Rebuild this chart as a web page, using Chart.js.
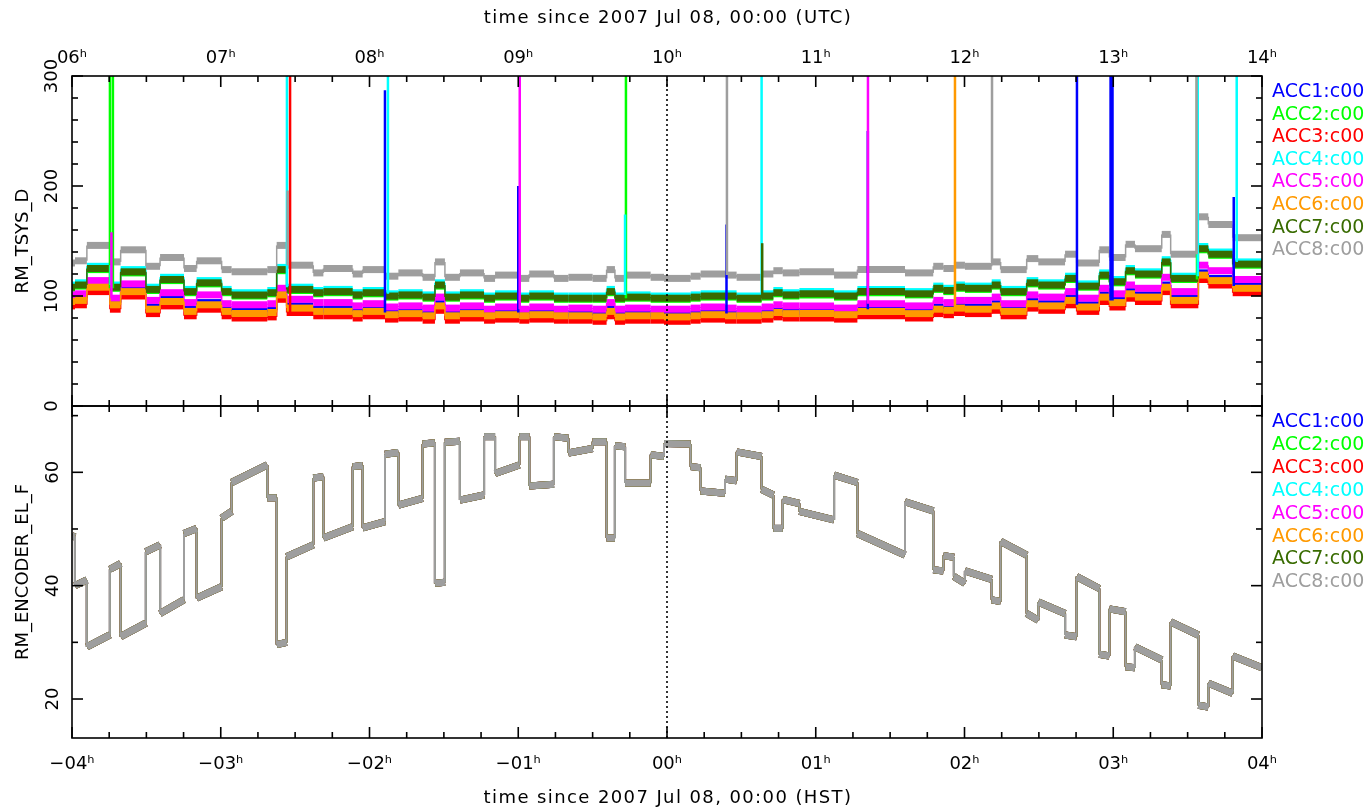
<!DOCTYPE html>
<html>
<head>
<meta charset="utf-8">
<script src="https://cdn.jsdelivr.net/npm/chart.js@4.4.1/dist/chart.umd.min.js"></script>
<style>
html,body{margin:0;padding:0;background:#fff;}
#wrap{position:relative;width:1370px;height:808px;overflow:hidden;background:#fff;}
#c{position:absolute;left:0;top:0;}
.t{position:absolute;font-family:"DejaVu Sans",sans-serif;white-space:nowrap;color:#000;line-height:1;}
.ttl{font-size:18px;letter-spacing:1.4px;transform:translate(-50%,-50%);}
.yt{font-size:18px;transform:translate(-50%,-50%) rotate(-90deg);}
.lg{font-size:19px;transform:translateY(-50%);}
</style>
</head>
<body>
<div id="wrap">
<canvas id="c" width="1370" height="808"></canvas>
<div class="t ttl" style="left:668px;top:17px;">time since 2007 Jul 08, 00:00 (UTC)</div>
<div class="t ttl" style="left:668px;top:797px;">time since 2007 Jul 08, 00:00 (HST)</div>
<div class="t yt" style="left:22px;top:241px;">RM_TSYS_D</div>
<div class="t yt" style="left:22px;top:572px;">RM_ENCODER_EL_F</div>
</div>
<script>
// ---------------- DATA ----------------
// scan boundaries, hours since 2007 Jul 08 00:00 HST
const scanEdges = [-4.00, -3.98, -3.90, -3.745, -3.673, -3.503, -3.408, -3.247, -3.162, -2.994,
  -2.927, -2.687, -2.624, -2.557, -2.378, -2.31, -2.113, -2.046, -1.896, -1.806,
  -1.643, -1.56, -1.493, -1.392, -1.230, -1.156, -0.993, -0.926, -0.760, -0.663,
  -0.500, -0.406, -0.350, -0.282, -0.110, -0.020, 0.159, 0.226, 0.390, 0.468,
  0.636, 0.715, 0.778, 0.890, 1.123, 1.280, 1.600, 1.790, 1.858, 1.929,
  2.003, 2.183, 2.243, 2.418, 2.496, 2.676, 2.754, 2.906, 2.974, 3.083,
  3.146, 3.326, 3.386, 3.572, 3.639, 3.803, 4.00];

// elevation (deg) at start and end of each scan
const elevStart = [48.8, 40.0, 29.2, 42.9, 31.0, 46.0, 35.1, 49.2, 37.8, 51.9,
  58.2, 55.5, 29.6, 45.1, 59.0, 48.4, 61.0, 50.2, 63.2, 54.2,
  65.0, 40.4, 65.3, 55.1, 66.3, 59.8, 66.3, 57.6, 66.3, 63.4,
  65.4, 48.4, 64.7, 58.1, 63.1, 65.1, 61.0, 56.7, 58.8, 63.6,
  57.0, 50.1, 55.2, 53.1, 59.5, 49.2, 54.8, 42.8, 45.3, 41.6,
  42.6, 37.5, 47.8, 35.1, 37.1, 31.3, 41.6, 27.9, 35.9, 25.7,
  29.2, 22.5, 33.6, 18.9, 22.8, 27.6];
const elevEnd = [48.6, 41.0, 31.3, 43.9, 33.4, 47.2, 37.5, 50.1, 39.8, 53.1,
  61.3, 55.5, 30.0, 47.2, 59.2, 50.4, 61.2, 51.3, 63.5, 55.4,
  65.2, 40.6, 65.5, 56.0, 66.3, 61.3, 66.3, 57.9, 66.0, 64.2,
  65.4, 48.4, 64.5, 58.1, 62.8, 65.0, 60.8, 56.3, 58.5, 62.8,
  56.0, 50.1, 54.5, 51.6, 58.2, 45.4, 53.2, 42.6, 45.0, 40.4,
  41.1, 37.2, 45.4, 33.9, 35.1, 31.0, 39.5, 27.6, 35.4, 25.5,
  26.9, 22.3, 31.3, 18.6, 21.0, 25.5];

// system temperature (K) per scan for each correlator input
const tsysACC1 = [97, 98, 110, 94, 106, 90, 97, 88, 94, 88, 86, 87, 103, 91, 88, 88, 86, 88, 85, 86, 84, 93, 84, 86, 84, 85, 84, 85, 84, 84, 83, 88, 83, 84, 84, 83, 84, 85, 84, 84, 85, 87, 86, 86, 85, 88, 86, 90, 89, 91, 90, 93, 88, 95, 93, 98, 92, 101, 96, 104, 101, 110, 98, 121, 116, 109];
const tsysACC2 = [107, 109, 124, 107, 121, 105, 114, 103, 111, 103, 100, 102, 123, 105, 102, 103, 100, 102, 99, 100, 98, 109, 98, 100, 97, 99, 97, 99, 97, 97, 97, 103, 97, 98, 97, 97, 98, 99, 99, 97, 99, 102, 100, 101, 99, 103, 101, 106, 104, 107, 106, 109, 103, 111, 109, 115, 108, 118, 112, 122, 119, 130, 115, 142, 137, 128];
const tsysACC3 = [91, 92, 104, 88, 100, 84, 91, 82, 88, 82, 80, 81, 97, 85, 82, 82, 80, 82, 79, 80, 78, 87, 78, 80, 78, 79, 78, 79, 78, 78, 77, 82, 77, 78, 78, 77, 78, 79, 78, 78, 79, 81, 80, 80, 79, 82, 80, 84, 83, 85, 84, 87, 82, 89, 87, 92, 86, 95, 90, 98, 95, 104, 92, 115, 110, 103];
const tsysACC4 = [110, 112, 127, 110, 124, 108, 117, 106, 114, 106, 103, 105, 126, 108, 105, 106, 103, 105, 102, 103, 101, 112, 101, 103, 100, 102, 100, 102, 100, 100, 100, 106, 100, 101, 100, 100, 101, 102, 102, 100, 102, 105, 103, 104, 102, 106, 104, 109, 107, 110, 109, 112, 106, 114, 112, 118, 111, 121, 115, 125, 122, 133, 118, 145, 140, 131];
const tsysACC5 = [101, 102, 114, 98, 111, 96, 103, 94, 101, 93, 92, 93, 107, 97, 94, 94, 91, 93, 90, 91, 89, 99, 89, 91, 88, 90, 88, 90, 88, 89, 88, 94, 88, 89, 88, 88, 89, 90, 89, 88, 90, 92, 91, 91, 89, 93, 91, 96, 94, 96, 96, 99, 93, 101, 99, 104, 98, 107, 102, 110, 107, 117, 104, 128, 123, 115];
const tsysACC6 = [95, 96, 108, 92, 104, 88, 95, 86, 92, 86, 84, 85, 101, 89, 86, 86, 84, 86, 83, 84, 82, 91, 82, 84, 82, 83, 82, 83, 82, 82, 81, 86, 81, 82, 82, 81, 82, 83, 82, 82, 83, 85, 84, 84, 83, 86, 84, 88, 87, 89, 88, 91, 86, 93, 91, 96, 90, 99, 94, 102, 99, 108, 96, 119, 114, 107];
const tsysACC7 = [108, 110, 125, 108, 122, 106, 115, 104, 112, 104, 101, 103, 124, 106, 103, 104, 101, 103, 100, 101, 99, 110, 99, 101, 98, 100, 98, 100, 98, 98, 98, 104, 98, 99, 98, 98, 99, 100, 100, 98, 100, 103, 101, 102, 100, 104, 102, 107, 105, 108, 107, 110, 104, 112, 110, 116, 109, 119, 113, 123, 120, 131, 116, 143, 138, 129];
const tsysACC8 = [130, 132, 146, 131, 142, 127, 135, 125, 132, 124, 122, 124, 146, 128, 121, 125, 120, 124, 118, 121, 117, 131, 117, 121, 116, 119, 116, 120, 116, 117, 116, 124, 116, 119, 117, 116, 118, 120, 119, 117, 120, 123, 121, 122, 119, 124, 121, 127, 125, 128, 127, 131, 124, 134, 131, 138, 130, 142, 135, 147, 143, 156, 138, 172, 165, 153];

// Tsys spikes: [time (h HST), peak value]
const spikesACC1 = [[-1.896, 287], [-1.0, 200], [0.40, 165], [1.35, 250], [2.756, 400], [2.982, 400], [2.995, 400], [3.81, 190]];
const spikesACC2 = [[-3.745, 400], [-3.725, 400], [-0.276, 400], [3.563, 400]];
const spikesACC3 = [[-2.534, 400]];
const spikesACC4 = [[-3.74, 128], [-2.555, 400], [-1.876, 400], [-0.282, 174], [0.636, 400], [3.568, 400], [3.83, 400]];
const spikesACC5 = [[-3.735, 158], [-0.990, 400], [1.351, 400]];
const spikesACC6 = [[1.936, 400]];
const spikesACC7 = [[0.640, 148]];
const spikesACC8 = [[-2.55, 196], [0.403, 400], [2.185, 400], [3.560, 400]];

const seriesNames = ['ACC1:c00', 'ACC2:c00', 'ACC3:c00', 'ACC4:c00', 'ACC5:c00', 'ACC6:c00', 'ACC7:c00', 'ACC8:c00'];
const hstTicks = [-4, -3, -2, -1, 0, 1, 2, 3, 4];
const utcTicks = [6, 7, 8, 9, 10, 11, 12, 13, 14];
const tsysTicks = [0, 100, 200, 300];
const elevTicks = [20, 40, 60];

// ---------------- STYLE ----------------
const seriesColors = ['#0000ff', '#00ff00', '#ff0000', '#00ffff', '#ff00ff', '#ff9900', '#386b00', '#9e9e9e'];
const FONT = '"DejaVu Sans", sans-serif';
const EL_MIN = 13.12, EL_MAX = 71.7;

// ---------------- BUILD ----------------
const tsysSeries = [tsysACC1, tsysACC2, tsysACC3, tsysACC4, tsysACC5, tsysACC6, tsysACC7, tsysACC8];
const spikeSeries = [spikesACC1, spikesACC2, spikesACC3, spikesACC4, spikesACC5, spikesACC6, spikesACC7, spikesACC8];

function scanBand(vs, ve) {
  const pts = [];
  for (let i = 0; i < vs.length; i++) {
    pts.push({x: scanEdges[i], y: vs[i]});
    pts.push({x: scanEdges[i + 1], y: ve[i]});
  }
  return pts;
}
function valueAt(vals, t) {
  for (let i = 0; i < vals.length; i++) {
    if (t >= scanEdges[i] && t < scanEdges[i + 1]) return vals[i];
  }
  return vals[vals.length - 1];
}
function spikePts(sp, vals) {
  const pts = [];
  sp.forEach(([t, pk]) => {
    pts.push({x: t, y: valueAt(vals, t)});
    pts.push({x: t, y: pk});
    pts.push({x: t, y: null});
  });
  return pts;
}

const datasets = [];
for (let k = 0; k < 8; k++) {
  datasets.push({
    data: scanBand(tsysSeries[k], tsysSeries[k]),
    xAxisID: 'x', yAxisID: 'yT',
    borderColor: seriesColors[k], backgroundColor: seriesColors[k],
    borderWidth: 7, pointRadius: 0, tension: 0, clip: 0,
    borderCapStyle: 'butt',
    segment: {borderWidth: c => (c.p0DataIndex % 2 === 0 ? 7 : 1.5)},
    order: 30 - k
  });
  datasets.push({
    data: spikePts(spikeSeries[k], tsysSeries[k]),
    xAxisID: 'x', yAxisID: 'yT',
    borderColor: seriesColors[k], borderWidth: 2.5, pointRadius: 0, spanGaps: false, clip: 0,
    order: 10 - k
  });
  datasets.push({
    data: scanBand(elevStart, elevEnd),
    xAxisID: 'x', yAxisID: 'yB',
    borderColor: seriesColors[k], backgroundColor: seriesColors[k],
    borderWidth: 7, pointRadius: 0, tension: 0, clip: 0,
    borderCapStyle: 'butt',
    segment: {borderWidth: c => (c.p0DataIndex % 2 === 0 ? 7 : 2)},
    order: 30 - k
  });
}
// reference line at 00h HST
datasets.push({data: [{x: 0, y: 0}, {x: 0, y: 300}], xAxisID: 'x', yAxisID: 'yT',
  borderColor: '#000', borderWidth: 1.6, borderDash: [2, 3], pointRadius: 0, order: 0, clip: 0});
datasets.push({data: [{x: 0, y: EL_MIN}, {x: 0, y: EL_MAX}], xAxisID: 'x', yAxisID: 'yB',
  borderColor: '#000', borderWidth: 1.6, borderDash: [2, 3], pointRadius: 0, order: 0, clip: 0});

function fmtH(v) {
  const a = Math.round(Math.abs(v));
  return (v < 0 ? '\u2212' : '') + (a < 10 ? '0' : '') + a + '\u02B0';
}

const frameTicks = {
  id: 'frameTicks',
  afterDatasetsDraw(chart) {
    const ctx = chart.ctx, x = chart.scales.x;
    ctx.save();
    ctx.strokeStyle = '#000';
    ctx.lineWidth = 1.6;
    const line = (a, b, c, d) => { ctx.beginPath(); ctx.moveTo(a, b); ctx.lineTo(c, d); ctx.stroke(); };
    const panels = [
      {s: chart.scales.yT, lo: 0, hi: 300, step: 20, major: 100},
      {s: chart.scales.yB, lo: 20 - 10 * Math.floor((20 - EL_MIN) / 10), hi: EL_MAX, step: 10, major: 20}
    ];
    panels.forEach(p => {
      const s = p.s;
      ctx.strokeRect(x.left, s.top, x.right - x.left, s.bottom - s.top);
      for (let k = 0; k <= 32; k++) {
        const t = -4 + k * 0.25;
        const px = x.getPixelForValue(t);
        const L = (k % 4 === 0) ? 11 : 6;
        line(px, s.top, px, s.top + L);
        line(px, s.bottom, px, s.bottom - L);
      }
      for (let v = p.lo; v <= p.hi + 1e-6; v += p.step) {
        const py = s.getPixelForValue(v);
        const L = (Math.round(v) % p.major === 0) ? 11 : 6;
        line(x.left, py, x.left + L, py);
        line(x.right, py, x.right - L, py);
      }
    });
    ctx.restore();
  }
};

const tickFont = {family: FONT, size: 18};
new Chart(document.getElementById('c'), {
  type: 'line',
  data: {datasets},
  options: {
    responsive: false, animation: false, devicePixelRatio: 1, events: [],
    layout: {padding: {left: 0, right: 108, top: 0, bottom: 0}},
    plugins: {legend: {display: false}, tooltip: {enabled: false}, title: {display: false}},
    scales: {
      x: {type: 'linear', position: 'bottom', min: -4, max: 4,
        grid: {display: false, drawTicks: false}, border: {display: false},
        afterBuildTicks: s => { s.ticks = hstTicks.map(v => ({value: v})); },
        ticks: {autoSkip: false, maxRotation: 0, padding: 16, color: '#000', font: tickFont, callback: v => fmtH(v)},
        afterFit: s => { s.height = 70; }},
      x2: {type: 'linear', position: 'top', min: 6, max: 14,
        grid: {display: false, drawTicks: false}, border: {display: false},
        afterBuildTicks: s => { s.ticks = utcTicks.map(v => ({value: v})); },
        ticks: {autoSkip: false, maxRotation: 0, padding: 7, color: '#000', font: tickFont, callback: v => fmtH(v)},
        afterFit: s => { s.height = 76; }},
      yT: {type: 'linear', position: 'left', stack: 'panels', stackWeight: 330, weight: 2,
        min: 0, max: 300,
        grid: {display: false, drawTicks: false}, border: {display: false},
        afterBuildTicks: s => { s.ticks = tsysTicks.map(v => ({value: v})); },
        ticks: {autoSkip: false, minRotation: 90, maxRotation: 90, crossAlign: 'center', padding: 2,
          color: '#000', font: tickFont},
        afterFit: s => { s.width = 72; }},
      yB: {type: 'linear', position: 'left', stack: 'panels', stackWeight: 332, weight: 1,
        min: EL_MIN, max: EL_MAX,
        grid: {display: false, drawTicks: false}, border: {display: false},
        afterBuildTicks: s => { s.ticks = elevTicks.map(v => ({value: v})); },
        ticks: {autoSkip: false, minRotation: 90, maxRotation: 90, crossAlign: 'center', padding: 7.5,
          color: '#000', font: tickFont},
        afterFit: s => { s.width = 72; }}
    }
  },
  plugins: [frameTicks]
});

// legends (real text)
const wrap = document.getElementById('wrap');
seriesNames.forEach((n, i) => {
  [90 + i * 22.6, 420 + i * 22.9].forEach(y => {
    const d = document.createElement('div');
    d.className = 't lg';
    d.style.left = '1272px';
    d.style.top = y + 'px';
    d.style.color = seriesColors[i];
    d.textContent = n;
    wrap.appendChild(d);
  });
});
</script>
</body>
</html>
